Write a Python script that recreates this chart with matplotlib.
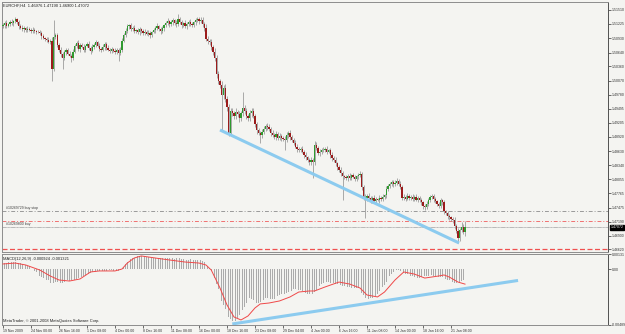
import numpy as np
import matplotlib.pyplot as plt
import matplotlib.transforms as mtransforms

plt.rcParams['font.family'] = ['Liberation Sans', 'DejaVu Sans']

# --- EURCHF H4 candles, closes in pips above 1.46000 ---
first_open_pips = 518
close_pips = [
    520, 525, 518, 522, 527, 524, 528, 532, 526, 519, 515,
    512, 514, 510, 513, 511, 508, 511, 509, 506, 507, 503,
    498, 494, 492, 489, 486, 488,
    430, 495, 500, 480, 470,
    462, 452, 465, 470, 462, 458, 452, 466,
    478, 484, 472, 480,
    476, 470, 478, 482, 474, 468, 476, 480, 486, 478, 472, 470, 476, 482, 474, 470, 468,
    472, 468, 466, 470, 464,
    470, 488, 500,
    508, 518, 520,
    512, 515, 508, 510, 506, 512, 508, 504, 507,
    502, 505, 500,
    506, 510, 514, 518, 512, 508, 514, 520,
    524, 528, 522, 526, 530, 525, 522, 532, 526,
    520, 524, 518, 522, 527, 523, 520, 526, 530, 533, 528,
    531, 522, 514, 492, 488, 486, 475, 465, 453, 420, 405, 398, 378, 392, 370, 352, 300, 345,
    340, 335, 342, 338, 330, 340, 350, 345, 335, 330, 340, 345, 335, 318, 305, 300, 295, 302,
    308, 315, 312, 308, 300, 296, 292, 298, 290, 294, 290, 288,
    285, 295, 300, 292, 285, 280, 272, 268, 265, 268, 262, 255, 250, 245, 240, 245, 240,
    275, 270, 258, 262, 266, 265, 268, 262, 265, 255, 248, 245, 238, 230, 225, 218, 212, 210,
    208, 212, 208, 214, 210, 206, 212, 214, 216,
    190, 170, 165, 172, 168, 162, 168, 160, 165, 163, 168, 165, 170, 173, 185, 192, 195, 200,
    196, 198, 202, 196, 190,
    168, 170, 166, 172, 168, 170, 165, 170, 164, 168, 162, 158, 150, 148, 155, 162, 170, 172,
    165, 160, 155, 150, 162, 158,
    140, 136, 130, 128, 124, 122, 110, 100, 85, 102, 108, 97.6, 107.2,
]
up_wick = [
    4, 3, 5, 2, 4, 6, 3, 5, 2, 4, 3, 5, 4, 2, 6, 3, 4, 5, 3, 2,
    4, 3, 5, 4, 2, 3, 6, 4, 8, 36, 5, 4, 3, 6, 4, 5, 3, 4, 6, 3,
    5, 4, 3, 6, 4, 3, 5, 2, 4, 6, 3, 5, 4, 3, 2, 5, 4, 6, 3, 4,
    5, 3, 4, 2, 5, 3, 4, 6, 5, 4, 6, 4, 3, 5, 4, 6, 3, 4, 5, 3,
    4, 5, 3, 6, 4, 3, 5, 4, 6, 3, 4, 5, 3, 4, 6, 3, 5, 4, 3, 5,
    10, 4, 5, 3, 6, 4, 3, 5, 4, 3, 5, 4, 3, 6, 5, 4, 8, 5, 4, 6,
    5, 8, 6, 7, 5, 9, 6, 8, 5, 7, 6, 5, 4, 8, 5, 6, 4, 34, 6, 5,
    4, 7, 5, 6, 4, 5, 6, 4, 5, 7, 4, 5, 6, 4, 5, 3, 6, 4, 5, 3,
    4, 5, 6, 4, 5, 3, 4, 6, 5, 4, 3, 5, 4, 6, 3, 4, 5, 3, 8, 6,
    4, 5, 3, 6, 4, 5, 3, 4, 6, 4, 5, 3, 4, 6, 4, 3, 5, 4, 6, 3,
    4, 5, 3, 4, 6, 5, 4, 6, 3, 5, 4, 3, 5, 4, 3, 6, 4, 5, 3, 6,
    4, 5, 3, 4, 5, 6, 3, 5, 4, 6, 3, 5, 4, 3, 5, 4, 6, 3, 4, 5,
    3, 4, 6, 5, 4, 4, 3, 5, 4, 3, 6, 4, 5, 3, 4, 5, 3, 4, 6, 4,
    5, 4, 11, 5, 12,
]
dn_wick = [
    3, 5, 4, 2, 4, 3, 5, 3, 4, 6, 3, 4, 5, 3, 4, 2, 5, 3, 4, 5,
    3, 4, 6, 3, 5, 4, 3, 5, 24, 4, 3, 5, 4, 6, 21, 4, 5, 3, 4, 7,
    4, 3, 5, 4, 6, 3, 4, 5, 3, 4, 6, 3, 5, 4, 3, 5, 4, 3, 6, 4,
    3, 5, 4, 3, 5, 4, 17, 5, 4, 3, 5, 4, 6, 3, 4, 5, 3, 4, 6, 3,
    5, 4, 3, 5, 6, 4, 3, 5, 4, 3, 6, 4, 5, 3, 4, 5, 3, 6, 4, 5,
    3, 4, 5, 3, 4, 6, 3, 5, 4, 3, 5, 4, 6, 4, 5, 6, 5, 7, 6, 5,
    6, 7, 8, 6, 7, 72, 8, 6, 7, 6, 6, 5, 7, 6, 5, 8, 6, 5, 7, 6,
    5, 6, 7, 5, 6, 7, 5, 16, 6, 5, 4, 6, 5, 7, 4, 5, 6, 4, 5, 6,
    5, 20, 4, 5, 6, 4, 5, 3, 6, 4, 5, 4, 6, 5, 4, 6, 5, 32, 6, 5,
    4, 6, 5, 4, 3, 5, 4, 6, 5, 4, 6, 5, 4, 5, 49, 4, 5, 6, 4, 5,
    3, 5, 4, 6, 5, 6, 7, 39, 5, 4, 6, 5, 4, 5, 3, 6, 4, 5, 4, 5,
    4, 5, 3, 6, 4, 5, 4, 5, 6, 4, 5, 3, 4, 6, 5, 4, 3, 5, 4, 6,
    5, 6, 4, 5, 4, 5, 6, 4, 5, 3, 4, 6, 5, 4, 5, 6, 4, 5, 6, 5,
    10, 5, 4, 5, 8,
]

# --- MACD(12,26,9), values in 1e-5 ---
macd_main = [
    50, 52, 55, 57, 58, 60, 61, 60, 58, 55, 52,
    48, 42, 36, 30,
    22, 12, 0, -15, -30, -45, -60,
    -70, -78, -85, -92, -100, -125,
    -135, -120, -110, -112, -115,
    -118, -120, -112, -105, -100, -102,
    -100, -98, -95, -88, -80, -75, -70, -62, -55, -48, -42, -36,
    -30, -26, -22, -18, -16, -14, -15, -16, -14, -12, -12, -13, -14, -15,
    -14, -16, -10, 5, 20,
    40, 58, 72, 85, 95, 100,
    105, 110, 114, 115, 112, 110,
    106, 102, 98, 96, 95, 96, 98, 97, 94, 92, 94, 96, 97, 96, 94, 92,
    90, 92, 94, 92, 88, 85, 82, 80, 82, 84, 82, 80, 78, 80, 82,
    78, 70, 60, 40, 25, 10,
    -20, -50, -80, -130, -175,
    -220, -280, -310, -350, -390,
    -420, -440, -455, -460, -455,
    -430, -400, -380, -355, -330,
    -300, -275, -255,
    -260, -275, -290, -300,
    -295, -290, -280, -270, -255, -250, -255, -262, -265, -262,
    -250, -238, -225, -215, -212, -215, -210, -205, -200,
    -190, -175, -172,
    -175, -180, -185, -192, -200, -208, -215, -220, -222, -220,
    -200, -180, -165, -150,
    -135, -125, -118, -114, -116,
    -120, -124, -126, -128, -132, -138,
    -142, -148, -152, -155, -158, -160, -162, -164, -165,
    -166, -168, -185, -210, -230,
    -250, -255, -258,
    -255, -250, -245,
    -235, -215, -195,
    -180, -160, -140,
    -115, -90, -65,
    -40, -25, -15, -8, -10,
    -20, -30, -32,
    -40, -48, -55, -60, -65, -70, -72, -75, -76,
    -72, -70, -65, -62, -60,
    -58, -56, -60, -65, -68, -70, -68, -72, -80,
    -88, -95, -100,
    -105, -110, -118,
    -125, -135, -120, -108, -100, -92,
]
signal_bars = [0, 7, 13, 21, 27, 32, 38, 44, 50, 55, 64, 68, 71, 75, 79, 87, 95, 104,
               112, 116, 119, 124, 128, 132, 136, 140, 144, 147, 152, 158, 164, 169,
               175, 178, 184, 192, 198, 204, 208, 214, 218, 224, 229, 235, 241, 249,
               252, 255, 260, 264]
signal_vals = [44, 52, 35, -9, -61, -96, -105, -87, -26, -17, -17, 0, 52, 96, 114, 96,
               79, 61, 52, 35, -9, -166, -314, -419, -445, -410, -340, -305, -297,
               -279, -244, -201, -192, -192, -157, -114, -131, -166, -227, -244, -201,
               -96, -26, -44, -79, -61, -52, -70, -114, -132]

# drawn objects
trend_bars = [124, 260.6]
trend_prices = [1.49060, 1.46752]
macd_trend_bars = [131, 294.3]
macd_trend_vals = [-0.00480, -0.00100]
order_levels = [1.47406, 1.47191, 1.47088]
order_colors = ['#9a9a9a', '#f07070', '#6a6a6a']
order_labels = ['#10269729 buy stop', None, '#10269800 buy']
stop_level = 1.46620
last_price = 1.47072

price_ticks = [1.51510, 1.51225, 1.50930, 1.50640, 1.50360, 1.50070, 1.49780, 1.49495,
               1.49205, 1.48920, 1.48630, 1.48340, 1.48055, 1.47765, 1.47475, 1.47190,
               1.46900, 1.46620]
time_labels = ['19 Nov 2009', '24 Nov 00:00', '26 Nov 16:00', '1 Dec 08:00', '4 Dec 00:00',
               '8 Dec 16:00', '11 Dec 08:00', '16 Dec 00:00', '18 Dec 16:00', '23 Dec 08:00',
               '29 Dec 04:00', '4 Jan 00:00', '6 Jan 16:00', '11 Jan 08:00', '14 Jan 00:00',
               '18 Jan 16:00', '21 Jan 08:00']
time_bars = [16 * k for k in range(len(time_labels))]

bg = '#f4f4f1'
fs = 2.9      # header texts
fs_ax = 2.55  # axis labels
W, H = 625, 334

fig = plt.figure(figsize=(6.25, 3.34), dpi=100, facecolor=bg)
ax = fig.add_axes([2 / W, (H - 252) / H, 606 / W, 250 / H], facecolor=bg)
ax2 = fig.add_axes([2 / W, (H - 325) / H, 606 / W, 71 / H], facecolor=bg)

# candles
c = 1.46 + np.array(close_pips) / 10000
o = np.r_[1.46 + first_open_pips / 10000, c[:-1]]
hi = np.maximum(o, c) + np.array(up_wick) / 10000
lo = np.minimum(o, c) - np.array(dn_wick) / 10000
x = np.arange(len(c))
ax.vlines(x, lo, hi, color='#8a8a8a', lw=0.5, zorder=2)
bull = c >= o
body = np.maximum(np.abs(c - o), 0.00004)
ax.bar(x[bull], body[bull], bottom=o[bull], width=0.7, color='#2f9a2f', lw=0, zorder=3)
ax.bar(x[~bull], body[~bull], bottom=c[~bull], width=0.7, color='#9b1c1c', lw=0, zorder=3)

# order / stop lines
for lvl, col, lab in zip(order_levels, order_colors, order_labels):
    ax.axhline(lvl, color=col, lw=0.7, ls=(0, (4, 2, 1, 2)), zorder=1)
    if lab:
        ax.text(1.5, lvl + 0.00012, lab, fontsize=fs_ax, color='#404040', va='bottom')
ax.axhline(last_price, color='#c8c8c8', lw=0.6, zorder=1)
ax.axhline(stop_level, color='#f05050', lw=0.9, ls=(0, (4, 2)), zorder=1)

ax.plot(trend_bars, trend_prices, color='#8ccbef', lw=2.2, solid_capstyle='butt', zorder=4)

ax.set_xlim(-0.57, 345.7)
ax.set_ylim(1.46568, 1.51673)
ax.set_xticks([])
ax.yaxis.tick_right()
ax.set_yticks(price_ticks)
ax.set_yticklabels([f'{p:.5f}' for p in price_ticks])
ax.tick_params(axis='y', length=2, width=0.5, labelsize=fs_ax, pad=0.6, colors='#303030')
for s in ax.spines.values():
    s.set_color('#8c8c8c')
    s.set_linewidth(0.7)
ax.spines['right'].set_color('#505050')

blend = mtransforms.blended_transform_factory(ax.transAxes, ax.transData)
ax.text(1.004, last_price, f'{last_price:.5f}', transform=blend, fontsize=fs_ax, color='white',
        va='center', ha='left', bbox=dict(fc='black', ec='black', pad=0.4), zorder=6)
ax.text(0.002, 0.992, 'EURCHF,H4  1.46976 1.47190 1.46900 1.47072', transform=ax.transAxes,
        fontsize=fs, va='top', ha='left', color='#202020')

# MACD panel
m = np.array(macd_main) * 1e-5
xm = np.arange(len(m))
ax2.bar(xm, m, width=0.55, color='#ababab', lw=0, zorder=2)
ax2.plot(signal_bars, np.array(signal_vals) * 1e-5, color='#f04848', lw=0.7, zorder=3)
ax2.plot(macd_trend_bars, macd_trend_vals, color='#8ccbef', lw=2.2, solid_capstyle='butt', zorder=4)

ax2.set_xlim(-0.57, 345.7)
ax2.set_ylim(-0.00489, 0.00131)
ax2.yaxis.tick_right()
ax2.set_yticks([0.00131, 0.0, -0.00489])
ax2.set_yticklabels(['0.00131', '0.00', '-0.00489'])
ax2.tick_params(axis='y', length=2, width=0.5, labelsize=fs_ax, pad=0.6, colors='#303030')
ax2.set_xticks(time_bars)
ax2.set_xticklabels(time_labels)
ax2.tick_params(axis='x', length=2, width=0.5, labelsize=fs_ax, pad=1, colors='#303030')
for lbl in ax2.get_xticklabels():
    lbl.set_ha('left')
for s in ax2.spines.values():
    s.set_color('#8c8c8c')
    s.set_linewidth(0.7)
ax2.spines['right'].set_color('#505050')
ax2.text(0.002, 0.96, 'MACD(12,26,9) -0.000924 -0.001321', transform=ax2.transAxes,
         fontsize=fs, va='top', ha='left', color='#202020')
ax2.text(0.002, 0.03, 'MetaTrader, \u00a9 2001-2008 MetaQuotes Software Corp.',
         transform=ax2.transAxes, fontsize=fs, va='bottom', ha='left', color='#202020')

fig.savefig('out.png', dpi=100, facecolor=bg)
